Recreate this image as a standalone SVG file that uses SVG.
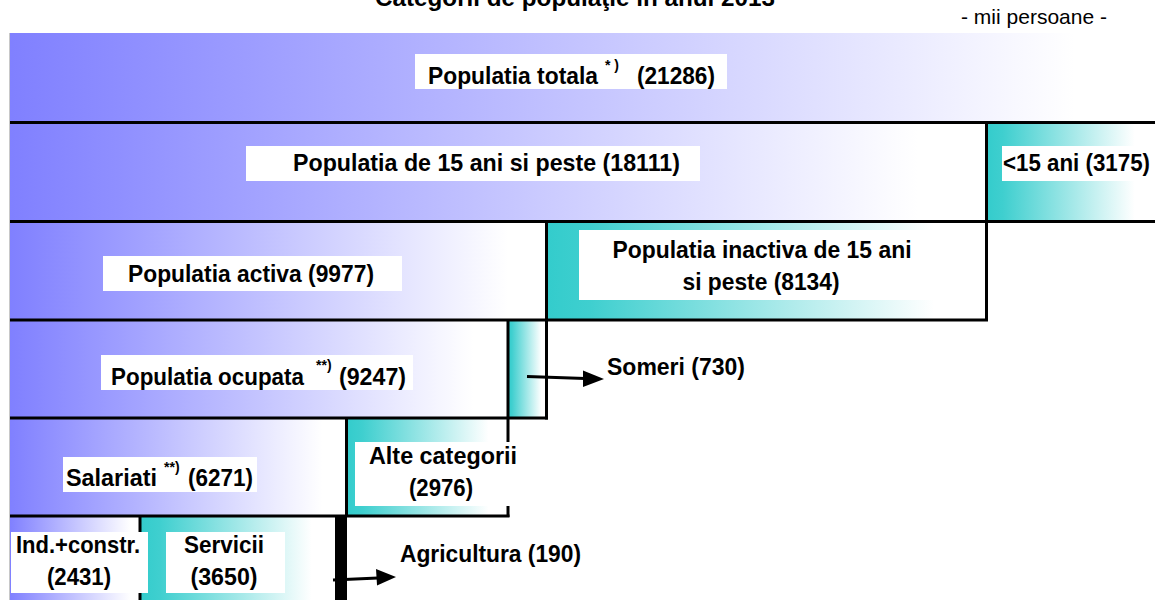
<svg xmlns="http://www.w3.org/2000/svg" width="1155" height="600" viewBox="0 0 1155 600">
<defs>
<linearGradient id="gBlue" x1="0" y1="0" x2="1" y2="0">
<stop offset="0" stop-color="#8080FF"/>
<stop offset="0.93" stop-color="#FFFFFF"/>
</linearGradient>
<linearGradient id="gTeal" x1="0" y1="0" x2="1" y2="0">
<stop offset="0" stop-color="#33CCCC"/>
<stop offset="0.1" stop-color="#3FCFCF"/>
<stop offset="0.88" stop-color="#FFFFFF"/>
</linearGradient>
</defs>
<style>
.t{font-family:"Liberation Sans",Arial,sans-serif;font-weight:bold;font-size:24px;fill:#000}
.s{font-family:"Liberation Sans",Arial,sans-serif;font-weight:bold;font-size:14px;fill:#000}
.u{font-family:"Liberation Sans",Arial,sans-serif;font-size:21px;fill:#000}
.lab{fill:#FFFFFF}
.blue{fill:url(#gBlue)}
.teal{fill:url(#gTeal)}
.ln{stroke:#000;stroke-width:3;fill:none}
.arrow{stroke:#000;stroke-width:3;fill:none}
.head{fill:#000;stroke:none}
</style>
<rect width="1155" height="600" fill="#FFFFFF"/>
<g id="title">
<text class="t" x="575" y="6" text-anchor="middle" textLength="400" lengthAdjust="spacingAndGlyphs">Categorii de populaţie în anul 2013</text>
<text class="u" x="1034" y="24" text-anchor="middle">- mii persoane -</text>
</g>
<g id="n-total">
<rect class="blue" x="10" y="33" width="1145" height="89"/>
<rect class="lab" x="415" y="54" width="312" height="35"/>
<text class="t" x="428" y="84" textLength="170" lengthAdjust="spacingAndGlyphs">Populatia totala</text>
<text class="s" x="605" y="70">* )</text>
<text class="t" x="637" y="84" textLength="78" lengthAdjust="spacingAndGlyphs">(21286)</text>
</g>
<g id="n-15plus">
<rect class="blue" x="10" y="122" width="976" height="99"/>
<rect class="lab" x="246" y="146" width="454" height="35"/>
<text class="t" x="293" y="171" textLength="387" lengthAdjust="spacingAndGlyphs">Populatia de 15 ani si peste (18111)</text>
</g>
<g id="n-under15">
<rect class="teal" x="986" y="122" width="169" height="99"/>
<rect class="lab" x="1002" y="146" width="153" height="35"/>
<text class="t" x="1003" y="171" textLength="147" lengthAdjust="spacingAndGlyphs">&lt;15 ani (3175)</text>
</g>
<g id="n-activa">
<rect class="blue" x="10" y="221" width="536" height="99"/>
<rect class="lab" x="103" y="256" width="299" height="35"/>
<text class="t" x="128" y="282" textLength="246" lengthAdjust="spacingAndGlyphs">Populatia activa (9977)</text>
</g>
<g id="n-inactiva">
<rect class="teal" x="546" y="221" width="441" height="99"/>
<rect class="lab" x="579" y="230" width="366" height="70"/>
<text class="t" x="762" y="258" text-anchor="middle" textLength="299" lengthAdjust="spacingAndGlyphs">Populatia inactiva de 15 ani</text>
<text class="t" x="761" y="290" text-anchor="middle" textLength="157" lengthAdjust="spacingAndGlyphs">si peste (8134)</text>
</g>
<g id="n-ocupata">
<rect class="blue" x="10" y="320" width="498" height="98"/>
<rect class="lab" x="101" y="355" width="312" height="35"/>
<text class="t" x="111" y="385" textLength="193" lengthAdjust="spacingAndGlyphs">Populatia ocupata</text>
<text class="s" x="316" y="370">**)</text>
<text class="t" x="339" y="385" textLength="67" lengthAdjust="spacingAndGlyphs">(9247)</text>
</g>
<g id="n-someri">
<rect class="teal" x="508" y="320" width="38" height="98"/>
<text class="t" x="607" y="375" textLength="138" lengthAdjust="spacingAndGlyphs">Someri (730)</text>
</g>
<g id="n-salariati">
<rect class="blue" x="10" y="418" width="336" height="98"/>
<rect class="lab" x="63" y="457" width="194" height="35"/>
<text class="t" x="66" y="486" textLength="91" lengthAdjust="spacingAndGlyphs">Salariati</text>
<text class="s" x="164" y="472">**)</text>
<text class="t" x="188" y="486" textLength="65" lengthAdjust="spacingAndGlyphs">(6271)</text>
</g>
<g id="n-alte">
<rect class="teal" x="346" y="418" width="162" height="98"/>
</g>
<g id="n-ind">
<rect class="blue" x="10" y="516" width="130" height="84"/>
</g>
<g id="n-servicii">
<rect class="teal" x="140" y="516" width="195" height="84"/>
<rect class="lab" x="166" y="532" width="119" height="61"/>
<text class="t" x="224" y="553" text-anchor="middle" textLength="80" lengthAdjust="spacingAndGlyphs">Servicii</text>
<text class="t" x="224" y="585" text-anchor="middle" textLength="67" lengthAdjust="spacingAndGlyphs">(3650)</text>
</g>
<g id="n-agri">
<rect x="335" y="516" width="12" height="84" fill="#000"/>
<text class="t" x="400" y="562" textLength="181" lengthAdjust="spacingAndGlyphs">Agricultura (190)</text>
</g>
<g id="dividers">
<line x1="9.5" y1="33" x2="9.5" y2="600" stroke="#C8C8C8" stroke-width="1"/>
<line class="ln" x1="10" y1="122.5" x2="1155" y2="122.5"/>
<line class="ln" x1="10" y1="221.5" x2="1155" y2="221.5"/>
<line class="ln" x1="986.5" y1="122.5" x2="986.5" y2="320"/>
<line class="ln" x1="10" y1="320" x2="988" y2="320"/>
<line class="ln" x1="546.5" y1="221.5" x2="546.5" y2="419.5"/>
<line class="ln" x1="10" y1="418" x2="548" y2="418"/>
<line class="ln" x1="508" y1="320" x2="508" y2="517"/>
<line class="ln" x1="10" y1="516" x2="509.5" y2="516"/>
<line class="ln" x1="346.5" y1="418" x2="346.5" y2="516"/>
<line class="ln" x1="140" y1="516" x2="140" y2="600"/>
</g>
<g id="n-alte-label">
<rect class="lab" x="355" y="442" width="159" height="64"/>
<text class="t" x="443" y="464" text-anchor="middle" textLength="148" lengthAdjust="spacingAndGlyphs">Alte categorii</text>
<text class="t" x="441" y="496" text-anchor="middle" textLength="64" lengthAdjust="spacingAndGlyphs">(2976)</text>
</g>
<g id="n-ind-label">
<rect class="lab" x="11" y="532" width="137" height="61"/>
<text class="t" x="78" y="553" text-anchor="middle" textLength="124" lengthAdjust="spacingAndGlyphs">Ind.+constr.</text>
<text class="t" x="79" y="585" text-anchor="middle" textLength="64" lengthAdjust="spacingAndGlyphs">(2431)</text>
</g>
<g id="connectors">
<line class="arrow" x1="527" y1="376.5" x2="585" y2="378.4"/>
<polygon class="head" points="604,379 583,370.5 583,387"/>
<line class="arrow" x1="333" y1="580" x2="378" y2="578"/>
<polygon class="head" points="396,577 376,569 377,585.5"/>
</g>
</svg>
